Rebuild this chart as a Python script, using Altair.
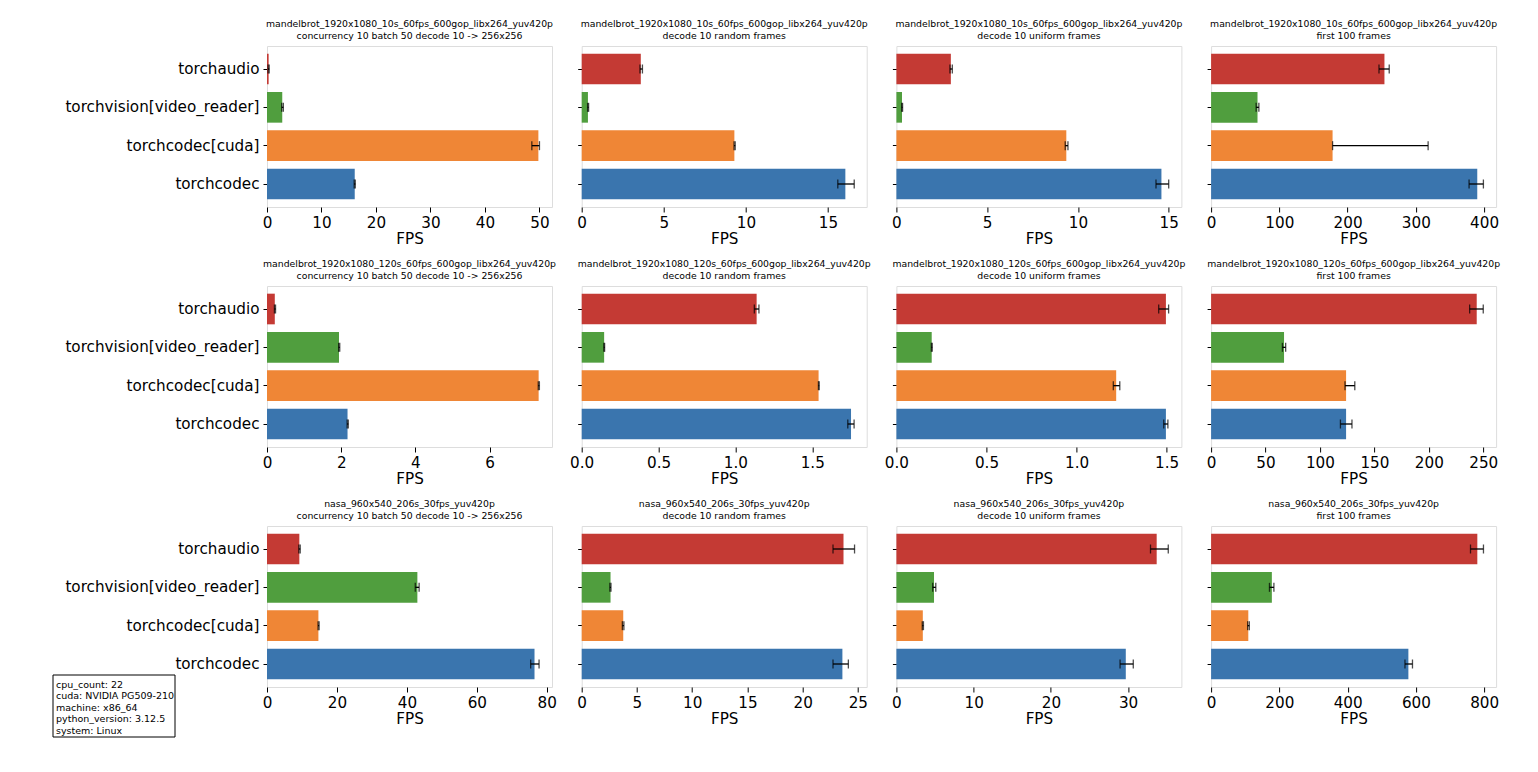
import altair as alt
import pandas as pd

FONT = "DejaVu Sans"

libraries = ["torchaudio", "torchvision[video_reader]", "torchcodec[cuda]", "torchcodec"]
lib_colors = ["#c43a34", "#509e3e", "#ef8636", "#3a75ae"]

datasets = [
    "mandelbrot_1920x1080_10s_60fps_600gop_libx264_yuv420p",
    "mandelbrot_1920x1080_120s_60fps_600gop_libx264_yuv420p",
    "nasa_960x540_206s_30fps_yuv420p",
]
benchmarks = [
    "concurrency 10 batch 50 decode 10 -> 256x256",
    "decode 10 random frames",
    "decode 10 uniform frames",
    "first 100 frames",
]

# FPS per row (dataset), per column (benchmark), in library order
fps_row1 = [[0.3, 2.8, 49.8, 16.1], [3.6, 0.38, 9.3, 16.06], [3.0, 0.31, 9.36, 14.6], [254, 68, 178, 390]]
lo_row1 = [[0.2, 2.7, 48.6, 16.0], [3.55, 0.36, 9.28, 15.6], [2.95, 0.29, 9.3, 14.3], [246, 66, 178, 378]]
hi_row1 = [[0.4, 3.0, 50.0, 16.2], [3.7, 0.42, 9.35, 16.6], [3.08, 0.34, 9.45, 15.0], [261, 70, 318, 399]]

fps_row2 = [[0.21, 1.94, 7.32, 2.17], [1.138, 0.146, 1.541, 1.752], [1.496, 0.196, 1.22, 1.496], [244, 67, 124, 124]]
lo_row2 = [[0.2, 1.93, 7.31, 2.16], [1.123, 0.144, 1.54, 1.731], [1.456, 0.194, 1.204, 1.484], [237.5, 65.5, 123, 118.8]]
hi_row2 = [[0.23, 1.96, 7.34, 2.19], [1.153, 0.149, 1.545, 1.772], [1.511, 0.199, 1.24, 1.507], [250, 68.5, 132, 129.4]]

fps_row3 = [[9.25, 43.0, 14.7, 76.5], [23.7, 2.61, 3.76, 23.6], [33.7, 4.87, 3.42, 29.7], [780, 178, 109, 578]]
lo_row3 = [[9.1, 42.4, 14.6, 75.4], [22.75, 2.55, 3.68, 22.75], [32.9, 4.7, 3.35, 28.96], [760, 171, 107, 568]]
hi_row3 = [[9.5, 43.5, 14.9, 77.8], [24.7, 2.65, 3.82, 24.14], [35.2, 5.1, 3.5, 30.67], [798, 184, 112, 590]]

# x axis extents and tick labels per panel
x_max = [[52.3, 17.36, 15.7, 417.6], [7.68, 1.854, 1.582, 261.8], [81.5, 25.8, 36.9, 835]]
x_ticks = [
    [[0, 10, 20, 30, 40, 50], [0, 5, 10, 15], [0, 5, 10, 15], [0, 100, 200, 300, 400]],
    [[0, 2, 4, 6], [0.0, 0.5, 1.0, 1.5], [0.0, 0.5, 1.0, 1.5], [0, 50, 100, 150, 200, 250]],
    [[0, 20, 40, 60, 80], [0, 5, 10, 15, 20, 25], [0, 10, 20, 30], [0, 200, 400, 600, 800]],
]
x_formats = [["d", "d", "d", "d"], ["d", ".1f", ".1f", "d"], ["d", "d", "d", "d"]]

info_lines = [
    "cpu_count: 22",
    "cuda: NVIDIA PG509-210",
    "machine: x86_64",
    "python_version: 3.12.5",
    "system: Linux",
]

fps_rows = [fps_row1, fps_row2, fps_row3]
lo_rows = [lo_row1, lo_row2, lo_row3]
hi_rows = [hi_row1, hi_row2, hi_row3]

W, H = 285, 161


def panel(r, c):
    df = pd.DataFrame({
        "lib": libraries,
        "fps": fps_rows[r][c],
        "lo": lo_rows[r][c],
        "hi": hi_rows[r][c],
    })
    y = alt.Y(
        "lib:N",
        sort=libraries,
        scale=alt.Scale(paddingInner=0.2, paddingOuter=0.2),
        axis=alt.Axis(
            title=None,
            labels=(c == 0),
            labelFontSize=15.2,
            labelColor="black",
            labelPadding=4,
            labelLimit=400,
            tickSize=4,
            tickColor="black",
            domain=False,
        ),
    )
    xscale = alt.Scale(domain=[0, x_max[r][c]], nice=False, zero=True)
    xaxis = alt.Axis(
        title="FPS",
        values=x_ticks[r][c],
        format=x_formats[r][c],
        labelFontSize=15.2,
        labelColor="black",
        titleFontSize=15.2,
        titleFontWeight="normal",
        titleColor="black",
        labelPadding=3,
        titlePadding=1,
        tickSize=5,
        tickColor="black",
        domain=False,
        grid=False,
        labelFlush=False,
    )
    base = alt.Chart(df)
    bars = base.mark_bar().encode(
        x=alt.X("fps:Q", scale=xscale, axis=xaxis),
        y=y,
        color=alt.Color("lib:N", scale=alt.Scale(domain=libraries, range=lib_colors), legend=None),
    )
    err = base.mark_rule(color="black", strokeWidth=1.3).encode(
        x=alt.X("lo:Q", scale=xscale), x2="hi:Q", y=y
    )
    cap_lo = base.mark_tick(color="black", thickness=1.3, size=9).encode(
        x=alt.X("lo:Q", scale=xscale), y=y
    )
    cap_hi = base.mark_tick(color="black", thickness=1.3, size=9).encode(
        x=alt.X("hi:Q", scale=xscale), y=y
    )
    layers = [bars, err, cap_lo, cap_hi]
    if r == 2 and c == 0:
        box_src = alt.Chart(alt.Data(values=[{"k": 0}]))
        box = box_src.mark_rect(fill="white", stroke="black", strokeWidth=1).encode(
            x=alt.value(-214), x2=alt.value(-92), y=alt.value(149), y2=alt.value(211)
        )
        txt = box_src.mark_text(
            align="left", baseline="top", fontSize=9.5, lineHeight=11.4, font=FONT, color="black"
        ).encode(x=alt.value(-211), y=alt.value(154), text=alt.value(info_lines))
        layers += [box, txt]
    return alt.layer(*layers).properties(
        width=W,
        height=H,
        title=alt.TitleParams(
            [datasets[r], benchmarks[c]],
            fontSize=9.3,
            fontWeight="normal",
            font=FONT,
            color="black",
            anchor="middle",
            lineHeight=12,
            offset=5,
        ),
    )


panels = [panel(r, c) for r in range(3) for c in range(4)]

chart = (
    alt.concat(*panels, columns=4, spacing=alt.RowColnumber(row=79, column=29.7), bounds="flush")
    .configure_view(stroke="black", strokeWidth=1)
    .configure(font=FONT, background="white", padding={"left": 44, "top": 11, "right": 10, "bottom": 5})
)

chart.save("out.html", embed_options={"renderer": "svg", "actions": False})
